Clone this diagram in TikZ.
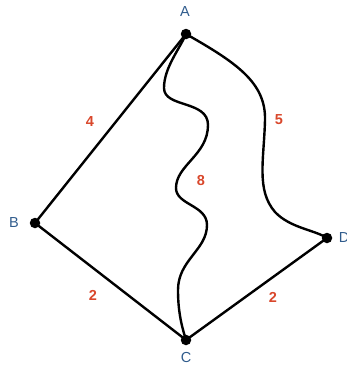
\documentclass[tikz,border=0pt]{standalone}
\usepackage{fontspec}
\setmainfont{Liberation Sans}
\definecolor{lblblue}{HTML}{2F5B8C}
\definecolor{numred}{HTML}{D9472B}
\begin{document}
\begin{tikzpicture}[x=1pt,y=-1pt,
  vert/.style={circle,fill=black,inner sep=0pt,minimum size=10.5pt},
  vlabel/.style={text=lblblue,font=\fontsize{14.5}{16}\selectfont},
  wlabel/.style={text=numred,font=\fontsize{14.5}{16}\selectfont\bfseries},
  edge/.style={line width=2.4pt,black}]
\useasboundingbox (0,0) rectangle (346,370);
\node[vert] (A) at (186,34) {};
\node[vert] (B) at (35,223) {};
\node[vert] (C) at (186,340) {};
\node[vert] (D) at (327,238) {};
\node[vlabel] (lA) at (185,12) {A};
\node[vlabel] (lB) at (14,223) {B};
\node[vlabel] (lC) at (186,358) {C};
\node[vlabel] (lD) at (344,238) {D};
\draw[edge] (A.center) -- (B.center);
\draw[edge] (B.center) -- (C.center);
\draw[edge] (C.center) -- (D.center);
\draw[edge] (A.center) .. controls (179,50) and (164,68) .. (164,88)
  .. controls (164,108) and (208,100) .. (208,125)
  .. controls (208,155) and (176,165) .. (176,188)
  .. controls (176,205) and (207,205) .. (207,225)
  .. controls (207,250) and (178,260) .. (178,290)
  .. controls (178,315) and (183,330) .. (C.center);
\draw[edge] (A.center) .. controls (235,62) and (266,82) .. (265,120)
  .. controls (264,160) and (256,190) .. (275,212)
  .. controls (290,228) and (315,230) .. (D.center);
\node[wlabel] (w4) at (90,122) {4};
\node[wlabel] (w5) at (279,120) {5};
\node[wlabel] (w8) at (201,181) {8};
\node[wlabel] (w2a) at (93,295) {2};
\node[wlabel] (w2b) at (273,297) {2};
\end{tikzpicture}
\end{document}
